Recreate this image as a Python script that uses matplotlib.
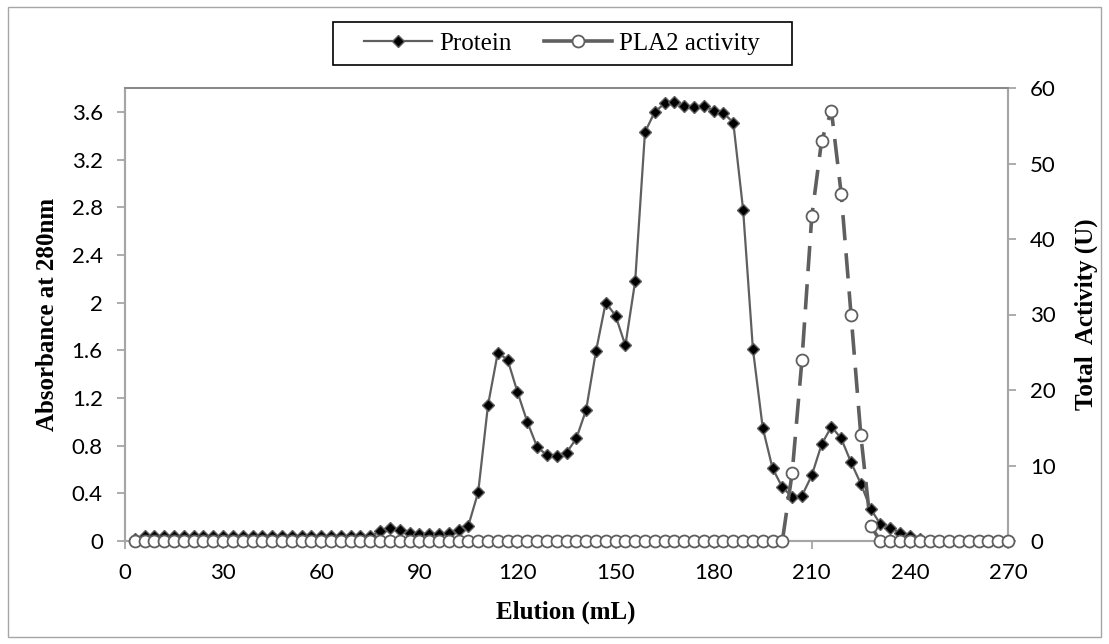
import numpy as np
import matplotlib
matplotlib.use("Agg")
import matplotlib.pyplot as plt
from matplotlib.lines import Line2D
from matplotlib.patches import Rectangle

# ============================================================
# 数据 (每 3 mL 收集一管)
# ============================================================

elution = [
    3, 6, 9, 12, 15, 18, 21, 24, 27, 30,
    33, 36, 39, 42, 45, 48, 51, 54, 57, 60,
    63, 66, 69, 72, 75, 78, 81, 84, 87, 90,
    93, 96, 99, 102, 105, 108, 111, 114, 117, 120,
    123, 126, 129, 132, 135, 138, 141, 144, 147, 150,
    153, 156, 159, 162, 165, 168, 171, 174, 177, 180,
    183, 186, 189, 192, 195, 198, 201, 204, 207, 210,
    213, 216, 219, 222, 225, 228, 231, 234, 237, 240,
    243, 246, 249, 252, 255, 258, 261, 264, 267, 270,
]

protein = [
    0.02, 0.04, 0.04, 0.04, 0.04, 0.04, 0.04, 0.04, 0.04, 0.04,
    0.04, 0.04, 0.04, 0.04, 0.04, 0.04, 0.04, 0.04, 0.04, 0.04,
    0.04, 0.04, 0.04, 0.04, 0.04, 0.08, 0.11, 0.09, 0.07, 0.06,
    0.06, 0.06, 0.07, 0.09, 0.13, 0.41, 1.14, 1.58, 1.52, 1.25,
    1.00, 0.79, 0.72, 0.71, 0.74, 0.86, 1.10, 1.59, 2.00, 1.89,
    1.64, 2.18, 3.43, 3.60, 3.67, 3.68, 3.65, 3.64, 3.65, 3.61,
    3.59, 3.51, 2.78, 1.61, 0.95, 0.61, 0.45, 0.37, 0.38, 0.55,
    0.81, 0.96, 0.86, 0.66, 0.48, 0.27, 0.14, 0.11, 0.07, 0.04,
    0.02, 0, 0, 0, 0, 0, 0, 0, 0, 0,
]

activity = [
    0, 0, 0, 0, 0, 0, 0, 0, 0, 0,
    0, 0, 0, 0, 0, 0, 0, 0, 0, 0,
    0, 0, 0, 0, 0, 0, 0, 0, 0, 0,
    0, 0, 0, 0, 0, 0, 0, 0, 0, 0,
    0, 0, 0, 0, 0, 0, 0, 0, 0, 0,
    0, 0, 0, 0, 0, 0, 0, 0, 0, 0,
    0, 0, 0, 0, 0, 0, 0, 9, 24, 43,
    53, 57, 46, 30, 14, 2, 0, 0, 0, 0,
    0, 0, 0, 0, 0, 0, 0, 0, 0, 0,
]

x_ticks = [0, 30, 60, 90, 120, 150, 180, 210, 240, 270]
left_ticks = [0, 0.4, 0.8, 1.2, 1.6, 2, 2.4, 2.8, 3.2, 3.6]
left_tick_labels = ["0", "0.4", "0.8", "1.2", "1.6", "2", "2.4", "2.8", "3.2", "3.6"]
right_ticks = [0, 10, 20, 30, 40, 50, 60]

# ============================================================
# 画布
# ============================================================

W, H = 1109, 644
fig = plt.figure(figsize=(W / 100, H / 100), dpi=100)

# 绘图区域 (像素换算成比例)
ax = fig.add_axes([125 / W, (H - 541) / H, (1008 - 125) / W, (541 - 88) / H])
ax2 = ax.twinx()

line_gray = "#5f5f5f"
axis_gray = "#a6a6a6"
tick_font = "Lato"
label_font = "Liberation Serif"

ax.plot(elution, protein, color=line_gray, lw=1.6, marker="D", markersize=5.8,
        markerfacecolor="black", markeredgecolor=line_gray, markeredgewidth=1.0,
        clip_on=False, zorder=3)

ax2.plot(elution, activity, color=line_gray, lw=2.6, dashes=(7, 3.6),
         marker="o", markersize=8.6, markerfacecolor="white",
         markeredgecolor=line_gray, markeredgewidth=1.3, clip_on=False, zorder=3)

ax.set_xlim(0, 270)
ax.set_ylim(0, 3.8)
ax2.set_ylim(0, 60)
ax.set_xticks(x_ticks)
ax.set_yticks(left_ticks)
ax.set_yticklabels(left_tick_labels)
ax2.set_yticks(right_ticks)

for a in (ax, ax2):
    for s in a.spines.values():
        s.set_color(axis_gray)
        s.set_linewidth(1.5)
    a.spines["top"].set_color("#868686")
    a.spines["top"].set_linewidth(1.2)
    a.tick_params(direction="out", length=6, width=1.3, color=axis_gray,
                  labelsize=16, pad=10)
    for lab in a.get_xticklabels() + a.get_yticklabels():
        lab.set_fontfamily(tick_font)

# 轴标题
fig.text(566 / W, 1 - 612 / H, "Elution (mL)", ha="center", va="center",
         fontsize=18, fontweight="bold", family=label_font)
fig.text(47 / W, 1 - 314 / H, "Absorbance at 280nm", ha="center", va="center",
         rotation=90, fontsize=18, fontweight="bold", family=label_font)
fig.text(1086 / W, 1 - 314 / H, "Total  Activity (U)", ha="center", va="center",
         rotation=90, fontsize=18, fontweight="bold", family=label_font)

# 图例 (自己画边框)
handles = [
    Line2D([], [], color=line_gray, lw=1.6, marker="D", markersize=5.8,
           markerfacecolor="black", markeredgecolor=line_gray),
    Line2D([], [], color=line_gray, lw=2.6, marker="o", markersize=8.6,
           markerfacecolor="white", markeredgecolor=line_gray, markeredgewidth=1.3),
]
fig.legend(handles, ["Protein", "PLA2 activity"], loc="center",
           bbox_to_anchor=(562 / W, 1 - 43.5 / H), ncol=2, frameon=False,
           prop={"family": label_font, "size": 18}, handlelength=2.7,
           handletextpad=0.3, columnspacing=1.3)
fig.patches.append(Rectangle((333 / W, 1 - 65 / H), 459 / W, 43 / H, fill=False,
                             edgecolor="black", lw=1.2, transform=fig.transFigure))

# 外框
fig.patches.append(Rectangle((8 / W, 1 - 637 / H), 1093 / W, 630 / H, fill=False,
                             edgecolor=axis_gray, lw=1.0, transform=fig.transFigure))

fig.savefig("out.png", dpi=100)
plt.close(fig)
